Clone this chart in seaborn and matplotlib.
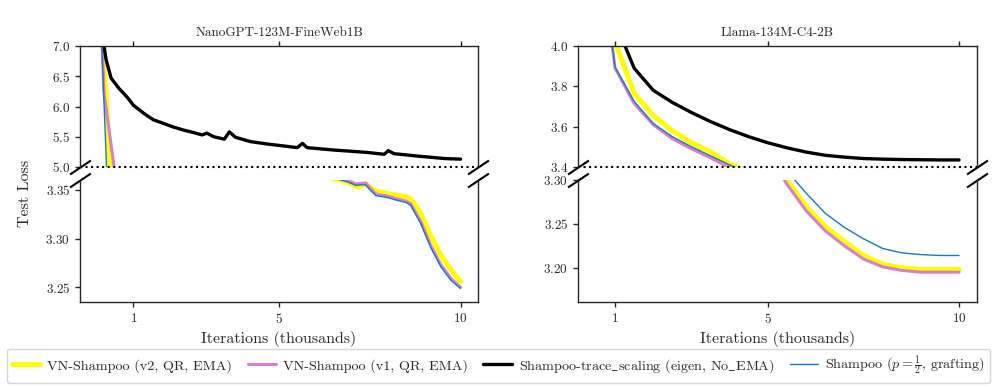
import matplotlib
matplotlib.use("Agg")
import matplotlib.pyplot as plt
import seaborn as sns
import pandas as pd

# ---------------- data ----------------
# Left panel: NanoGPT-123M-FineWeb1B  (x in thousands of iterations)
nano_v2_x = [0.0, 0.45, 1.0, 2.0, 3.0, 4.0, 5.0, 6.0, 6.5, 6.9, 7.16, 7.39, 7.62, 7.99, 8.5, 8.65, 8.91, 9.18, 9.46, 9.78, 10.0]
nano_v2_y = [8.79, 4.05, 3.85, 3.64, 3.535, 3.47, 3.42, 3.38, 3.3615, 3.358, 3.3527, 3.356, 3.3493, 3.346, 3.343, 3.340, 3.3255, 3.303, 3.283, 3.266, 3.256]

nano_v1_x = [0.0, 0.19, 0.6, 1.0, 2.0, 3.0, 4.0, 5.0, 6.0, 6.5, 6.9, 7.12, 7.25, 7.39, 7.48, 7.67, 7.99, 8.27, 8.5, 8.63, 8.91, 9.18, 9.46, 9.74, 10.0]
nano_v1_y = [9.18, 6.22, 4.43, 4.0, 3.68, 3.54, 3.47, 3.415, 3.378, 3.364, 3.3595, 3.356, 3.3565, 3.357, 3.353, 3.3455, 3.3435, 3.3405, 3.3385, 3.3355, 3.317, 3.293, 3.273, 3.259, 3.250]

nano_trace_x = [0.0, 0.25, 0.385, 0.6, 0.82, 1.0, 1.3, 1.55, 1.83, 2.1, 2.38, 2.65, 2.89, 3.02, 3.21, 3.5, 3.64, 3.81, 4.22, 4.68, 5.1, 5.51, 5.65, 5.78, 6.15, 6.52, 7.0, 7.44, 7.9, 8.01, 8.17, 8.5, 8.82, 9.2, 9.55, 10.0]
nano_trace_y = [7.72, 6.77, 6.47, 6.30, 6.16, 6.02, 5.88, 5.78, 5.72, 5.66, 5.61, 5.57, 5.53, 5.56, 5.50, 5.46, 5.58, 5.49, 5.42, 5.38, 5.35, 5.32, 5.39, 5.32, 5.30, 5.28, 5.26, 5.24, 5.21, 5.27, 5.22, 5.20, 5.18, 5.16, 5.14, 5.13]

nano_shampoo_x = [0.0, 0.3, 0.6, 1.0, 2.0, 3.0, 4.0, 5.0, 6.0, 6.5, 6.9, 7.12, 7.25, 7.39, 7.48, 7.67, 7.99, 8.27, 8.5, 8.63, 8.91, 9.18, 9.46, 9.74, 10.0]
nano_shampoo_y = [9.0, 4.38, 4.1, 3.9, 3.65, 3.53, 3.46, 3.41, 3.375, 3.362, 3.358, 3.3544, 3.355, 3.355, 3.351, 3.344, 3.342, 3.339, 3.337, 3.334, 3.315, 3.291, 3.271, 3.257, 3.249]

# Right panel: Llama-134M-C4-2B
llama_x = [0.5, 1.0, 1.5, 2.0, 2.5, 3.0, 3.5, 4.0, 4.5, 5.0, 5.5, 6.0, 6.5, 7.0, 7.5, 8.0, 8.5, 9.0, 9.5, 10.0]
llama_v2_y = [4.80, 4.02, 3.765, 3.655, 3.58, 3.52, 3.475, 3.415, 3.375, 3.34, 3.30, 3.27, 3.247, 3.23, 3.214, 3.204, 3.200, 3.198, 3.198, 3.198]
llama_v1_y = [4.62, 3.89, 3.715, 3.61, 3.54, 3.49, 3.445, 3.397, 3.362, 3.33, 3.295, 3.265, 3.242, 3.225, 3.210, 3.201, 3.197, 3.195, 3.195, 3.195]
llama_trace_y = [4.80, 4.12, 3.89, 3.78, 3.72, 3.67, 3.625, 3.585, 3.55, 3.52, 3.495, 3.474, 3.458, 3.449, 3.442, 3.439, 3.437, 3.436, 3.435, 3.435]
llama_shampoo_y = [4.60, 3.895, 3.725, 3.615, 3.55, 3.50, 3.455, 3.41, 3.37, 3.335, 3.31, 3.285, 3.262, 3.246, 3.233, 3.222, 3.217, 3.215, 3.214, 3.214]

labels = ["VN-Shampoo (v2, QR, EMA)", "VN-Shampoo (v1, QR, EMA)",
          r"Shampoo-trace$\_$scaling (eigen, No$\_$EMA)", r"Shampoo ($p=\frac{1}{2}$, grafting)"]
titles = ["NanoGPT-123M-FineWeb1B", "Llama-134M-C4-2B"]
xticks = [1, 5, 10]

# ---------------- style ----------------
sns.set_style("ticks")
plt.rcParams["font.family"] = ["cmr10", "DejaVu Serif"]
plt.rcParams["mathtext.fontset"] = "cm"
plt.rcParams["axes.formatter.use_mathtext"] = True
plt.rcParams["axes.linewidth"] = 1.0
plt.rcParams["xtick.major.width"] = 1.0
plt.rcParams["ytick.major.width"] = 1.0
plt.rcParams["xtick.major.size"] = 3.5
plt.rcParams["ytick.major.size"] = 3.5

colors = ["#ffff00", "#d67fcf", "black", "#1f77b4"]
lws = [3.6, 2.2, 2.4, 1.0]

W, H = 997, 388
fig = plt.figure(figsize=(W / 100, H / 100), dpi=100)


def fx(px):
    return px / W


def fy(py):
    return 1 - py / H


panels = [
    dict(left=80, right=478, top_ylim=(5.0, 7.0), top_ticks=[5.0, 5.5, 6.0, 6.5, 7.0],
         bot_ylim=(3.235, 3.36), bot_ticks=[3.25, 3.30, 3.35], xlim=(-0.47, 10.48),
         series=[(nano_v2_x, nano_v2_y), (nano_v1_x, nano_v1_y),
                 (nano_trace_x, nano_trace_y), (nano_shampoo_x, nano_shampoo_y)]),
    dict(left=578, right=977, top_ylim=(3.4, 4.0), top_ticks=[3.4, 3.6, 3.8, 4.0],
         bot_ylim=(3.161, 3.30), bot_ticks=[3.20, 3.25, 3.30], xlim=(0.03, 10.47),
         series=[(llama_x, llama_v2_y), (llama_x, llama_v1_y),
                 (llama_x, llama_trace_y), (llama_x, llama_shampoo_y)]),
]

handles = None
for i, p in enumerate(panels):
    axt = fig.add_axes([fx(p["left"]), fy(167), fx(p["right"] - p["left"]), (167 - 46) / H])
    axb = fig.add_axes([fx(p["left"]), fy(302), fx(p["right"] - p["left"]), (302 - 180) / H])
    for ax in (axt, axb):
        for k, (xs, ys) in enumerate(p["series"]):
            df = pd.DataFrame({"x": xs, "y": ys})
            sns.lineplot(data=df, x="x", y="y", ax=ax, color=colors[k], linewidth=lws[k],
                         sort=False, estimator=None, label=labels[k], legend=False)
        ax.set_xlim(*p["xlim"])
        ax.set_xticks(xticks)
        ax.set_xlabel("")
        ax.set_ylabel("")
        ax.tick_params(labelsize=9.5)
    axt.set_ylim(*p["top_ylim"])
    axt.set_yticks(p["top_ticks"])
    axb.set_ylim(*p["bot_ylim"])
    axb.set_yticks(p["bot_ticks"])

    axt.spines["bottom"].set_visible(False)
    axb.spines["top"].set_visible(False)
    axt.xaxis.tick_top()
    axt.tick_params(labeltop=False)
    axb.xaxis.tick_bottom()
    axt.yaxis.tick_left()
    axb.yaxis.tick_left()

    axt.axhline(p["top_ylim"][0], color="black", linestyle=":", linewidth=1.5, clip_on=False)

    axt.set_title(titles[i], fontsize=9.5, pad=7)
    axb.set_xlabel("Iterations (thousands)", fontsize=11.5, labelpad=4)

    d = 0.67
    kw = dict(marker=[(-1, -d), (1, d)], markersize=15, linestyle="none",
              color="k", mec="k", mew=1.5, clip_on=False)
    axt.plot([0, 1], [0, 0], transform=axt.transAxes, **kw)
    axb.plot([0, 1], [1, 1], transform=axb.transAxes, **kw)

    if handles is None:
        handles = axt.get_lines()[:4]

fig.text(fx(25), fy(193), "Test Loss", rotation=90, ha="center", va="center", fontsize=11.5)

leg = fig.legend(handles, labels, loc="lower left",
                 bbox_to_anchor=(fx(7), fy(383), fx(983), (383 - 359) / H),
                 mode="expand", ncol=4, fontsize=10.2, handlelength=2.0,
                 handletextpad=0.5, borderaxespad=0.0, borderpad=0.35, frameon=True,
                 fancybox=True, edgecolor="0.8")

fig.savefig("out.png", dpi=100)
